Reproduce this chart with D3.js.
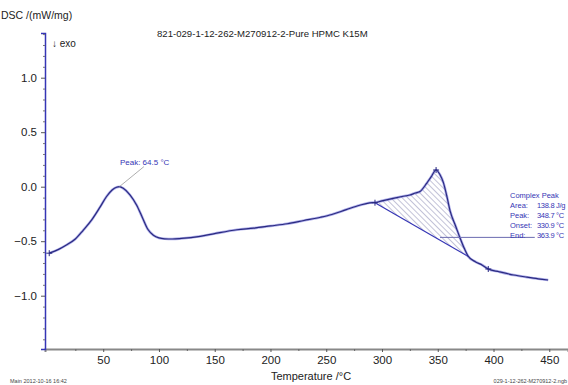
<!DOCTYPE html>
<html><head><meta charset="utf-8">
<script src="https://cdn.jsdelivr.net/npm/d3@7"></script>
<style>body{margin:0;background:#fff}svg{display:block}text{font-family:"Liberation Sans",Arial,sans-serif}</style>
</head><body><svg id="c" width="568" height="385"></svg>
<script>
const temps = [1.6,10,17,25,32,40,47,53,58,62,64.5,68,74,80,85,90,95,100,105,112,120,137,150,170,185,200,215,230,245,255,268,280,289,293.7,300,310,318,325,330,334,340,344,348.5,352,355,358,361,366,370,374,377.4,384,390,395.3,405,418,430,440,449];
const dsc   = [-0.61,-0.575,-0.535,-0.48,-0.40,-0.30,-0.19,-0.09,-0.03,-0.005,0.0,-0.015,-0.076,-0.17,-0.28,-0.39,-0.445,-0.47,-0.478,-0.48,-0.475,-0.455,-0.43,-0.395,-0.38,-0.36,-0.34,-0.31,-0.28,-0.255,-0.21,-0.17,-0.148,-0.145,-0.13,-0.107,-0.09,-0.076,-0.058,-0.045,0.03,0.09,0.153,0.11,0.04,-0.08,-0.22,-0.36,-0.47,-0.57,-0.64,-0.69,-0.72,-0.755,-0.78,-0.81,-0.83,-0.845,-0.856];
const xTicks = [50,100,150,200,250,300,350,400,450];
const yTicks = [-1.0,-0.5,0.0,0.5,1.0];
const markerT = [1.6,293.7,348.5,395.3];
const markerV = [-0.61,-0.147,0.153,-0.755];
const baselineT = [293.7,377.4];
const baselineV = [-0.147,-0.64];
const peak1 = {t:64.5, v:0.0, labelT:65, labelV:0.2, lineT:86.5, lineV:0.184, text:"Peak: 64.5 °C"};
const complexLabels = ["Area:","Peak:","Onset:","End:"];
const complexValues = ["138.8 J/g","348.7 °C","330.9 °C","363.9 °C"];
const leaderT = [352,437], leaderV = -0.465;

const svg = d3.select("#c");
const x = d3.scaleLinear().domain([-2.2,466.8]).range([45,568]);
const y = d3.scaleLinear().domain([-1.489,1.41]).range([349,33]);
const blue = "#3535b5", ink = "#222";

const defs = svg.append("defs");
const pat = defs.append("pattern").attr("id","hatch").attr("patternUnits","userSpaceOnUse")
  .attr("width",4).attr("height",4).attr("patternTransform","rotate(-45)");
pat.append("line").attr("x1",0).attr("y1",0).attr("x2",0).attr("y2",4).attr("stroke","#7a7aa8").attr("stroke-width",0.9);

const xa = svg.append("g").attr("transform","translate(0,349)")
  .call(d3.axisBottom(x).tickValues(xTicks).tickSize(3).tickPadding(4));
xa.select(".domain").attr("stroke","#888").attr("stroke-width",2);
xa.selectAll(".tick line").attr("stroke","#555");
xa.selectAll("text").attr("font-size",11.5).attr("fill",ink);
svg.append("g").attr("transform","translate(0,349)")
  .call(d3.axisBottom(x).tickValues(d3.range(25,466,50)).tickSize(2).tickFormat(""))
  .call(g=>g.select(".domain").remove()).selectAll("line").attr("stroke","#666");

const ya = svg.append("g").attr("transform","translate(45,0)")
  .call(d3.axisLeft(y).tickValues(yTicks).tickSize(4).tickPadding(4).tickFormat(d3.format(".1f")));
ya.select(".domain").attr("stroke",blue).attr("stroke-width",1.5);
ya.selectAll(".tick line").attr("stroke","#555");
ya.selectAll("text").attr("font-size",11.5).attr("fill",ink);
const minorY = d3.range(-14,15).map(d=>d/10).filter(d=>Math.abs(d*2-Math.round(d*2))>1e-6);
svg.append("g").attr("transform","translate(45,0)")
  .call(d3.axisLeft(y).tickValues(minorY).tickSize(2).tickFormat(""))
  .call(g=>g.select(".domain").remove()).selectAll("line").attr("stroke","#777");

const pts = temps.map((t,i)=>[t,dsc[i]]);
const inside = pts.filter(p=>p[0]>=baselineT[0] && p[0]<=baselineT[1]);
const poly = inside.concat([[baselineT[0],baselineV[0]]]);
svg.append("path").attr("d", d3.line().x(d=>x(d[0])).y(d=>y(d[1])).curve(d3.curveLinearClosed)(poly))
  .attr("fill","url(#hatch)").attr("stroke","none");
svg.append("line").attr("x1",x(baselineT[0])).attr("y1",y(baselineV[0])).attr("x2",x(baselineT[1])).attr("y2",y(baselineV[1]))
  .attr("stroke",blue).attr("stroke-width",1.2);

const line = d3.line().x(d=>x(d[0])).y(d=>y(d[1])).curve(d3.curveMonotoneX);
svg.append("path").attr("d",line(pts)).attr("fill","none").attr("stroke","#6b6bd8").attr("stroke-width",2.6).attr("opacity",0.55);
svg.append("path").attr("d",line(pts)).attr("fill","none").attr("stroke","#2a2a80").attr("stroke-width",1.2);

markerT.forEach((t,i)=>{
  const cx=x(t), cy=y(markerV[i]);
  svg.append("path").attr("d",`M${cx-3},${cy}H${cx+3}M${cx},${cy-3}V${cy+3}`).attr("stroke","#2a2a80").attr("stroke-width",1);
});

svg.append("line").attr("x1",x(peak1.t)).attr("y1",y(peak1.v)).attr("x2",x(peak1.lineT)).attr("y2",y(peak1.lineV))
  .attr("stroke","#999").attr("stroke-width",0.8);
svg.append("text").attr("x",x(peak1.labelT)).attr("y",y(peak1.labelV)).attr("font-size",8).attr("fill",blue).text(peak1.text);

svg.append("line").attr("x1",x(leaderT[0])).attr("y1",y(leaderV)).attr("x2",x(leaderT[1])).attr("y2",y(leaderV))
  .attr("stroke","#6a6ab0").attr("stroke-width",1);
svg.append("text").attr("x",510).attr("y",198).attr("font-size",7.5).attr("fill",blue).text("Complex Peak");
complexLabels.forEach((l,i)=>{
  svg.append("text").attr("x",510).attr("y",208+i*10).attr("font-size",7.5).attr("fill",blue).text(l);
  svg.append("text").attr("x",537).attr("y",208+i*10).attr("font-size",7.5).attr("letter-spacing",-0.3).attr("fill",blue).text(complexValues[i]);
});

svg.append("text").attr("x",1).attr("y",19).attr("font-size",10.5).attr("fill",ink).text("DSC /(mW/mg)");
svg.append("text").attr("x",52).attr("y",47).attr("font-size",10).attr("fill",ink).text("↓ exo");
svg.append("text").attr("x",157).attr("y",37).attr("font-size",9.6).attr("fill",ink).text("821-029-1-12-262-M270912-2-Pure HPMC K15M");
svg.append("text").attr("x",311).attr("y",380).attr("text-anchor","middle").attr("font-size",11).attr("fill",ink).text("Temperature /°C");
svg.append("text").attr("x",10).attr("y",383).attr("font-size",5.5).attr("fill","#444").text("Main   2012-10-16 16:42");
svg.append("text").attr("x",567).attr("y",383).attr("text-anchor","end").attr("font-size",5.5).attr("fill","#444").text("029-1-12-262-M270912-2.ngb");
</script></body></html>
